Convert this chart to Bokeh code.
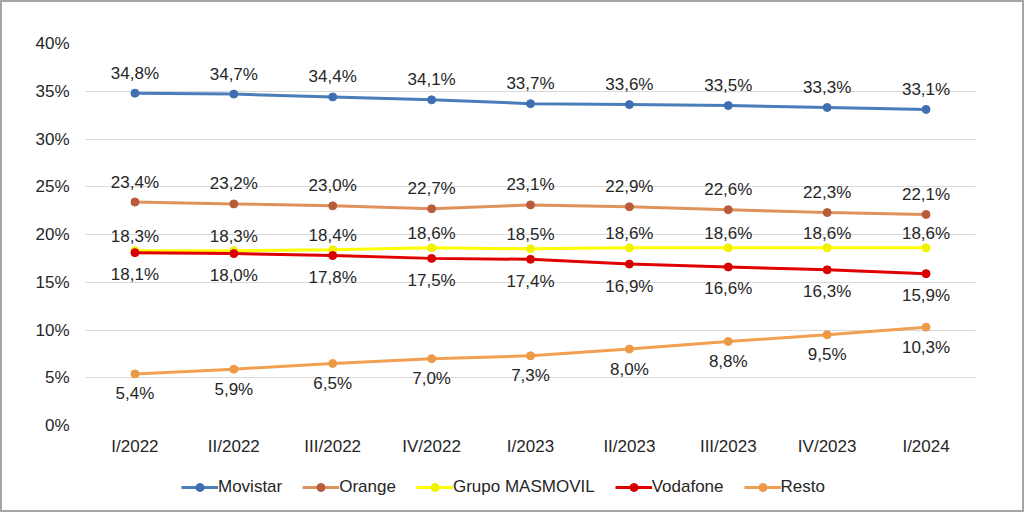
from bokeh.plotting import figure
from bokeh.layouts import column
from bokeh.models import FactorRange, Range1d, Legend, LegendItem, ColumnDataSource, CustomJSTickFormatter
from bokeh.core.properties import value
from bokeh.embed import file_html
from bokeh.resources import INLINE

quarters = ["I/2022", "II/2022", "III/2022", "IV/2022", "I/2023", "II/2023", "III/2023", "IV/2023", "I/2024"]
movistar = [34.8, 34.7, 34.4, 34.1, 33.7, 33.6, 33.5, 33.3, 33.1]
orange = [23.4, 23.2, 23.0, 22.7, 23.1, 22.9, 22.6, 22.3, 22.1]
masmovil = [18.3, 18.3, 18.4, 18.6, 18.5, 18.6, 18.6, 18.6, 18.6]
vodafone = [18.1, 18.0, 17.8, 17.5, 17.4, 16.9, 16.6, 16.3, 15.9]
resto = [5.4, 5.9, 6.5, 7.0, 7.3, 8.0, 8.8, 9.5, 10.3]
y_ticks = [0, 5, 10, 15, 20, 25, 30, 35, 40]

series = [
    ("Movistar", movistar, "#4a7ebb", "#3f6fb0", -20),
    ("Orange", orange, "#e0925c", "#b85c3c", -20),
    ("Grupo MASMOVIL", masmovil, "#ffff00", "#f2f200", -14),
    ("Vodafone", vodafone, "#e00000", "#d80000", 22),
    ("Resto", resto, "#f0a050", "#ec9a48", 20),
]

FONT = "Liberation Sans"
TXT = "#262626"
FS = "17px"
BORDER = "2px solid #a6a6a6"

p = figure(width=1024, height=466, output_backend="svg", toolbar_location=None,
           x_range=FactorRange(*quarters, range_padding=0), y_range=Range1d(0, 40))
p.min_border_left = 83
p.min_border_right = 51
p.min_border_top = 41
p.min_border_bottom = 43
p.outline_line_color = None
p.background_fill_color = "white"
p.border_fill_color = "white"

p.xgrid.grid_line_color = None
p.ygrid.grid_line_color = "#d9d9d9"
p.ygrid.grid_line_width = 1
p.yaxis.ticker = y_ticks
p.yaxis.formatter = CustomJSTickFormatter(code="return tick.toFixed(0) + '%';")
for ax in (p.xaxis, p.yaxis):
    ax.axis_line_color = None
    ax.major_tick_line_color = None
    ax.minor_tick_line_color = None
    ax.major_tick_out = 0
    ax.major_tick_in = 0
    ax.major_label_text_font = FONT
    ax.major_label_text_font_size = FS
    ax.major_label_text_color = TXT
p.yaxis.major_label_standoff = 16
p.xaxis.major_label_standoff = 11

# legend strip below the chart
pl = figure(width=1024, height=46, output_backend="svg", toolbar_location=None,
            x_axis_type=None, y_axis_type=None, x_range=Range1d(0, 1), y_range=Range1d(0, 1),
            min_border=0)
pl.outline_line_color = None
pl.xgrid.grid_line_color = None
pl.ygrid.grid_line_color = None

items = []
for name, vals, lc, mc, off in series:
    src = ColumnDataSource(dict(x=quarters, y=vals,
                                lab=[("%.1f%%" % v).replace(".", ",") for v in vals],
                                off=[off] * len(vals)))
    p.line("x", "y", source=src, line_color=lc, line_width=3)
    p.scatter("x", "y", source=src, size=8, fill_color=mc, line_color=mc)
    p.text("x", "y", text="lab", source=src, y_offset="off", text_align="center",
           text_baseline="middle", text_font=value(FONT), text_font_size=FS, text_color=TXT)
    # off-screen proxies so the legend strip can draw each series' glyph
    proxy = ColumnDataSource(dict(x=[-5, -4], y=[-5, -5]))
    dl = pl.line("x", "y", source=proxy, line_color=lc, line_width=3)
    ds = pl.scatter("x", "y", source=proxy, size=6, fill_color=mc, line_color=mc)
    items.append(LegendItem(label=name, renderers=[dl, ds]))

legend = Legend(items=items, orientation="horizontal", location=(96, 15),
                label_text_font=FONT, label_text_font_size=FS, label_text_color=TXT,
                glyph_width=37, glyph_height=20, label_standoff=0, spacing=20, padding=0,
                margin=0, border_line_color=None, background_fill_alpha=0)
pl.add_layout(legend, "center")

p.styles = {"border-top": BORDER, "border-left": BORDER, "border-right": BORDER, "box-sizing": "border-box"}
pl.styles = {"border-bottom": BORDER, "border-left": BORDER, "border-right": BORDER, "box-sizing": "border-box"}

layout = column(p, pl, spacing=0)
open("out.html", "w").write(file_html(layout, INLINE))
